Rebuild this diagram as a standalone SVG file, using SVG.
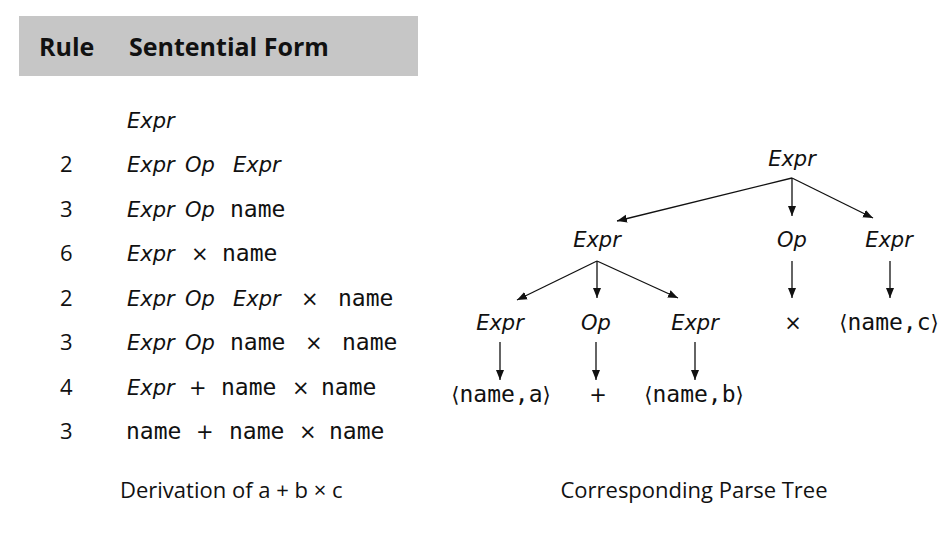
<svg xmlns="http://www.w3.org/2000/svg" width="951" height="536" viewBox="0 0 951 536">
<defs>
<style>
.s{font-family:"Open Sans","Liberation Sans",sans-serif;font-size:22px;fill:#111}
.o{font-family:"DejaVu Sans","Liberation Sans",sans-serif;font-size:21px;fill:#111}
.i{font-family:"DejaVu Sans","Liberation Sans",sans-serif;font-size:21px;font-style:italic;fill:#111}
.m{font-family:"DejaVu Sans Mono","Liberation Mono",monospace;font-size:23px;fill:#111}
.b{font-family:"DejaVu Sans","Liberation Sans",sans-serif;font-size:21px}
.h{font-family:"Open Sans","Liberation Sans",sans-serif;font-size:25px;font-weight:bold;fill:#111}
.c{text-anchor:middle}
.e{stroke:#111;stroke-width:1.3;fill:none;marker-end:url(#ah)}
</style>
<marker id="ah" viewBox="0 0 10 10" refX="10" refY="5" markerWidth="10" markerHeight="10" markerUnits="userSpaceOnUse" orient="auto">
<path d="M0,1 L10,5 L0,9 Z" fill="#111"/>
</marker>
</defs>
<rect width="951" height="536" fill="#fff"/>
<g id="table">
<rect x="19" y="16" width="399" height="60" fill="#c6c6c6"/>
<text class="h" x="39" y="56">Rule</text>
<text class="h" x="129" y="56">Sentential Form</text>
<text class="i" x="127" y="128">Expr</text>
<text class="s" x="60" y="172">2</text>
<text class="i" x="127" y="172">Expr</text><text class="i" x="185" y="172">Op</text><text class="i" x="233" y="172">Expr</text>
<text class="s" x="60" y="217">3</text>
<text class="i" x="127" y="217">Expr</text><text class="i" x="185" y="217">Op</text><text class="m" x="230" y="217">name</text>
<text class="s" x="60" y="261">6</text>
<text class="i" x="127" y="261">Expr</text><text class="o" x="191" y="261">×</text><text class="m" x="222" y="261">name</text>
<text class="s" x="60" y="306">2</text>
<text class="i" x="127" y="306">Expr</text><text class="i" x="185" y="306">Op</text><text class="i" x="233" y="306">Expr</text><text class="o" x="301" y="306">×</text><text class="m" x="338" y="306">name</text>
<text class="s" x="60" y="350">3</text>
<text class="i" x="127" y="350">Expr</text><text class="i" x="185" y="350">Op</text><text class="m" x="230" y="350">name</text><text class="o" x="305" y="350">×</text><text class="m" x="342" y="350">name</text>
<text class="s" x="60" y="395">4</text>
<text class="i" x="127" y="395">Expr</text><text class="o" x="189" y="395">+</text><text class="m" x="221" y="395">name</text><text class="o" x="292" y="395">×</text><text class="m" x="321" y="395">name</text>
<text class="s" x="60" y="439">3</text>
<text class="m" x="126" y="439">name</text><text class="o" x="196" y="439">+</text><text class="m" x="229" y="439">name</text><text class="o" x="299" y="439">×</text><text class="m" x="329" y="439">name</text>
<text class="s" x="120" y="498">Derivation of a + b × c</text>
</g>
<g id="n-root"><text class="i c" x="792" y="166">Expr</text></g>
<g id="n-expr-l"><text class="i c" x="597" y="247">Expr</text></g>
<g id="n-op"><text class="i c" x="792" y="247">Op</text></g>
<g id="n-expr-r"><text class="i c" x="889" y="247">Expr</text></g>
<g id="n-expr-ll"><text class="i c" x="500" y="330">Expr</text></g>
<g id="n-op-l"><text class="i c" x="596" y="330">Op</text></g>
<g id="n-expr-lr"><text class="i c" x="695" y="330">Expr</text></g>
<g id="n-times"><text class="o c" x="793" y="330">×</text></g>
<g id="n-name-c"><text class="m c" x="889" y="330"><tspan class="b">⟨</tspan>name,c<tspan class="b">⟩</tspan></text></g>
<g id="n-name-a"><text class="m c" x="501" y="402"><tspan class="b">⟨</tspan>name,a<tspan class="b">⟩</tspan></text></g>
<g id="n-plus"><text class="o c" x="598" y="402">+</text></g>
<g id="n-name-b"><text class="m c" x="694" y="402"><tspan class="b">⟨</tspan>name,b<tspan class="b">⟩</tspan></text></g>
<g id="connectors">
<line class="e" x1="792" y1="178" x2="617" y2="221"/>
<line class="e" x1="792" y1="178" x2="792" y2="216"/>
<line class="e" x1="792" y1="178" x2="873" y2="218"/>
<line class="e" x1="597" y1="261" x2="517" y2="300"/>
<line class="e" x1="597" y1="261" x2="597" y2="298"/>
<line class="e" x1="597" y1="261" x2="678" y2="298"/>
<line class="e" x1="792" y1="261" x2="792" y2="298"/>
<line class="e" x1="890" y1="261" x2="890" y2="298"/>
<line class="e" x1="500" y1="342" x2="500" y2="380"/>
<line class="e" x1="596" y1="342" x2="596" y2="380"/>
<line class="e" x1="695" y1="342" x2="695" y2="380"/>
</g>
<text class="s c" x="694" y="498">Corresponding Parse Tree</text>
</svg>
